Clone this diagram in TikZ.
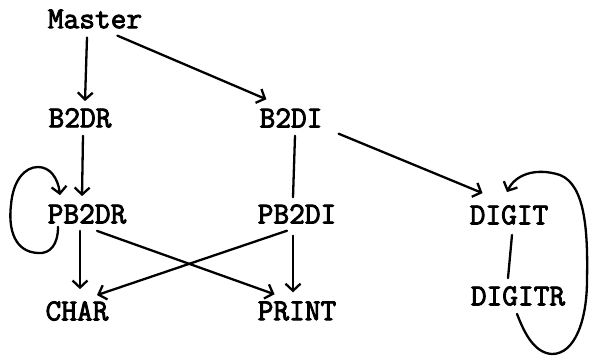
\documentclass[tikz,border=0pt]{standalone}
\usepackage{fontspec}
\newfontfamily\tw[FakeBold=2.8]{Latin Modern Mono}
\usetikzlibrary{arrows.meta}
\tikzset{
  lbl/.style={inner sep=0pt, anchor=center, font=\tw\fontsize{30.5}{30.5}\selectfont},
  con/.style={line width=2.3pt, line cap=round, line join=round},
  arr/.style={con, -{Straight Barb[length=7pt,width=15pt,line width=2.3pt]}}
}
\begin{document}
\begin{tikzpicture}[x=1pt,y=-1pt]
\useasboundingbox (0,0) rectangle (591,359);
\node[lbl] (master) at (95,19) {Master};
\node[lbl] (b2dr) at (80,118) {B2DR};
\node[lbl] (b2di) at (291,118) {B2DI};
\node[lbl] (pb2dr) at (87,214) {PB2DR};
\node[lbl] (pb2di) at (297,214) {PB2DI};
\node[lbl] (char) at (77,311) {CHAR};
\node[lbl] (print) at (297,311) {PRINT};
\node[lbl] (digit) at (509,215) {DIGIT};
\node[lbl] (digitr) at (518,296) {DIGITR};

\draw[arr] ([xshift=-8pt,yshift=-9pt]master.south) -- ([xshift=5pt,yshift=7pt]b2dr.north);
\draw[arr] ([xshift=-25pt,yshift=-7pt]master.south east) -- ([xshift=7pt,yshift=9pt]b2di.north west);
\draw[arr] ([xshift=3pt,yshift=-8pt]b2dr.south) -- ([xshift=-5pt,yshift=8pt]pb2dr.north);
\draw[arr] ([xshift=-29pt,yshift=-3pt]pb2dr.south) .. controls (58,245) and (50,254) .. (38,253)
  .. controls (15,252) and (8,230) .. (11,205)
  .. controls (13,180) and (25,167) .. (38,167)
  .. controls (50,167) and (58,178) .. ([xshift=-27pt,yshift=9pt]pb2dr.north);
\draw[arr] ([xshift=-7pt,yshift=-7pt]pb2dr.south) -- ([xshift=3pt,yshift=12pt]char.north);
\draw[arr] ([xshift=10pt,yshift=-7pt]pb2dr.south) -- ([xshift=17pt,yshift=7pt]print.north west);
\draw[arr] ([xshift=-10pt,yshift=-7pt]pb2di.south) -- ([xshift=20pt,yshift=6pt]char.north);
\draw[arr] ([xshift=-4pt,yshift=-12pt]pb2di.south) -- ([xshift=-4pt,yshift=9pt]print.north);
\draw[con] ([xshift=4pt,yshift=-8pt]b2di.south) -- ([xshift=-4pt,yshift=7pt]pb2di.north);
\draw[arr] ([xshift=16pt,yshift=-6pt]b2di.south east) -- ([xshift=13pt,yshift=12pt]digit.north west);
\draw[con] ([xshift=3pt,yshift=-10pt]digit.south) -- ([xshift=-10pt,yshift=8pt]digitr.north);
\draw[arr] ([xshift=-1pt,yshift=-8pt]digitr.south) .. controls (525,335) and (535,353) .. (552,354)
  .. controls (575,354) and (587,320) .. (587,280)
  .. controls (588,230) and (585,185) .. (560,175)
  .. controls (535,167) and (515,175) .. ([xshift=-2pt,yshift=13pt]digit.north);
\end{tikzpicture}
\end{document}
